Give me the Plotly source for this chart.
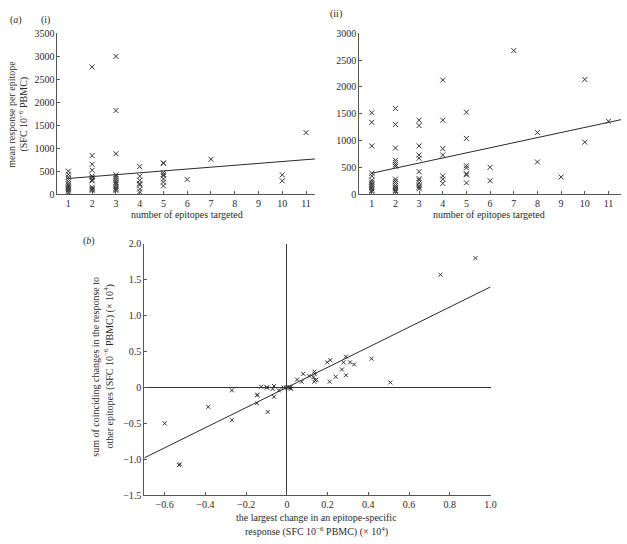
import plotly.graph_objects as go

W, H = 627, 544

# ---------- Panel (a)(i) data ----------
targeted_i = ([1]*12 + [2]*12 + [3]*13 + [4]*7 + [5]*8 + [6] + [7] + [10]*2 + [11])
response_i = [500, 430, 370, 320, 270, 220, 190, 160, 130, 100, 70, 40,
              2770, 840, 650, 520, 390, 360, 310, 290, 150, 120, 100, 80,
              3000, 1820, 880, 420, 380, 340, 300, 260, 220, 170, 130, 100, 80,
              600, 390, 300, 230, 200, 110, 50,
              680, 670, 470, 430, 400, 330, 260, 180,
              320,
              760,
              420, 290,
              1340]
fit_i_intercept, fit_i_slope = 300, 41
fit_i_x = [1, 11.375]

# ---------- Panel (a)(ii) data ----------
targeted_ii = ([1]*13 + [2]*15 + [3]*12 + [4]*7 + [5]*7 + [6]*2 + [7] + [8]*2 + [9] + [10]*2 + [11])
response_ii = [1520, 1340, 900, 390, 340, 260, 220, 190, 160, 130, 100, 70, 50,
               1600, 1300, 860, 630, 590, 550, 520, 280, 240, 200, 160, 130, 100, 70, 50,
               1380, 1280, 900, 730, 670, 420, 290, 260, 210, 160, 130, 100,
               2130, 1380, 850, 730, 340, 280, 200,
               1530, 1040, 530, 490, 380, 360, 210,
               500, 250,
               2680,
               1150, 600,
               320,
               2140, 970,
               1360]
fit_ii_intercept, fit_ii_slope = 295, 95
fit_ii_x = [1, 11.53]

# ---------- Panel (b) data ----------
largest_change = [-0.60, -0.53, -0.525, -0.386, -0.27, -0.27, -0.147, -0.145, -0.147, -0.126,
                  -0.10, -0.097, -0.094, -0.07, -0.063, -0.063, -0.04, -0.017, 0.0, 0.012,
                  0.018, 0.02, 0.05, 0.073, 0.08, 0.11, 0.135, 0.136, 0.13, 0.14,
                  0.145, 0.135, 0.198, 0.213, 0.21, 0.24, 0.27, 0.278, 0.29, 0.29,
                  0.31, 0.33, 0.416, 0.508, 0.754, 0.926]
sum_other = [-0.50, -1.08, -1.07, -0.27, -0.04, -0.455, -0.11, -0.10, -0.22, 0.01,
             0.0, 0.0, -0.34, -0.02, 0.02, -0.13, -0.04, 0.0, 0.0, 0.0,
             0.0, -0.02, 0.11, 0.08, 0.19, 0.16, 0.22, 0.19, 0.14, 0.10,
             0.11, 0.08, 0.35, 0.38, 0.08, 0.15, 0.25, 0.35, 0.43, 0.17,
             0.35, 0.32, 0.40, 0.07, 1.57, 1.80]
fit_b_intercept, fit_b_slope = 0.0, 1.4
fit_b_x = [-0.7, 1.0]

ticks_a = list(range(1, 12))
yticks_i = list(range(0, 3501, 500))
yticks_ii = list(range(0, 3001, 500))
xticks_b = [-0.6, -0.4, -0.2, 0, 0.2, 0.4, 0.6, 0.8, 1.0]
xticktext_b = ["\u22120.6", "\u22120.4", "\u22120.2", "0", "0.2", "0.4", "0.6", "0.8", "1.0"]
yticks_b = [-1.5, -1.0, -0.5, 0, 0.5, 1.0, 1.5, 2.0]
yticktext_b = ["\u22121.5", "\u22121.0", "\u22120.5", "0", "0.5", "1.0", "1.5", "2.0"]

FONT = "Liberation Serif"
FS = 10
INK = "#2a2a2a"
AX = "#555"

fig = go.Figure()

mk = dict(symbol="x-thin", size=5, line=dict(width=1, color="#333"), color="#333")
mk_b = dict(symbol="x-thin", size=4, line=dict(width=1, color="#333"), color="#333")

fig.add_trace(go.Scatter(x=targeted_i, y=response_i, mode="markers", marker=mk,
                         xaxis="x", yaxis="y", showlegend=False))
fig.add_trace(go.Scatter(x=fit_i_x, y=[fit_i_intercept + fit_i_slope * v for v in fit_i_x],
                         mode="lines", line=dict(color=INK, width=1), xaxis="x", yaxis="y",
                         showlegend=False))
fig.add_trace(go.Scatter(x=targeted_ii, y=response_ii, mode="markers", marker=mk,
                         xaxis="x2", yaxis="y2", showlegend=False))
fig.add_trace(go.Scatter(x=fit_ii_x, y=[fit_ii_intercept + fit_ii_slope * v for v in fit_ii_x],
                         mode="lines", line=dict(color=INK, width=1), xaxis="x2", yaxis="y2",
                         showlegend=False))
fig.add_trace(go.Scatter(x=largest_change, y=sum_other, mode="markers", marker=mk_b,
                         xaxis="x3", yaxis="y3", showlegend=False))
fig.add_trace(go.Scatter(x=fit_b_x, y=[fit_b_intercept + fit_b_slope * v for v in fit_b_x],
                         mode="lines", line=dict(color=INK, width=1), xaxis="x3", yaxis="y3",
                         showlegend=False))


def px(x):
    return x / W


def py(y):
    return 1 - y / H


axcommon = dict(showline=True, linecolor=AX, linewidth=1, ticks="inside", ticklen=3,
                tickcolor=AX, showgrid=False, zeroline=False,
                tickfont=dict(family=FONT, size=FS, color=INK))

fig.update_layout(
    width=W, height=H, margin=dict(l=0, r=0, t=0, b=0),
    paper_bgcolor="white", plot_bgcolor="white",
    font=dict(family=FONT, size=FS, color=INK),
    xaxis=dict(domain=[px(58), px(318)], range=[0.54, 11.375], tickvals=ticks_a,
               anchor="y", **axcommon),
    yaxis=dict(domain=[py(192), py(28)], range=[0, 3500], tickvals=yticks_i,
               anchor="x", **axcommon),
    xaxis2=dict(domain=[px(362.7), 1.0], range=[0.47, 11.53], tickvals=ticks_a,
                anchor="y2", **axcommon),
    yaxis2=dict(domain=[py(192), py(28)], range=[0, 3000], tickvals=yticks_ii,
                anchor="x2", **axcommon),
    xaxis3=dict(domain=[px(145.7), px(495.3)], range=[-0.7, 1.0], tickvals=xticks_b,
                ticktext=xticktext_b, anchor="y3",
                **{**axcommon, "zeroline": True}, zerolinecolor="#333", zerolinewidth=1),
    yaxis3=dict(domain=[py(499.3), py(242.7)], range=[-1.5, 2.0], tickvals=yticks_b,
                ticktext=yticktext_b, anchor="x3",
                **{**axcommon, "zeroline": True}, zerolinecolor="#333", zerolinewidth=1),
)

ann = []


def add(text, x, y, angle=0, size=FS):
    ann.append(dict(text=text, x=px(x), y=py(y), xref="paper", yref="paper",
                    showarrow=False, textangle=angle, xanchor="center", yanchor="middle",
                    font=dict(family=FONT, size=size, color=INK)))


add("(<i>a</i>)", 16, 14)
add("(i)", 46, 14)
add("(ii)", 339, 8)
add("(<i>b</i>)", 90, 240)
add("number of epitopes targeted", 189, 213)
add("number of epitopes targeted", 494, 213)
add("mean response per epitope", 12, 110, angle=-90)
add("(SFC 10<sup>\u22126</sup> PBMC)", 24, 110, angle=-90)
add("sum of coinciding changes in the response to", 96, 368, angle=-90)
add("other epitopes (SFC 10<sup>\u22126</sup> PBMC) (\u00d7 10<sup>4</sup>)", 110, 368, angle=-90)
add("the largest change in an epitope-specific", 320, 522)
add("response (SFC 10<sup>\u22126</sup> PBMC) (\u00d7 10<sup>4</sup>)", 320, 536)

fig.update_layout(annotations=ann)

fig.write_html("out.html", config={"displayModeBar": False},
               post_script="document.body.style.margin='0';document.body.style.padding='0';")
